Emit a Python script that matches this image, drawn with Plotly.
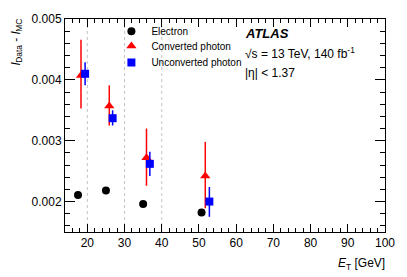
import plotly.graph_objects as go

# Data
el_x = [17.5, 25.0, 35.0, 50.7]
el_y = [0.00211, 0.00218, 0.00196, 0.00182]

conv_x = [18.3, 25.9, 35.9, 51.7]
conv_y = [0.00407, 0.00357, 0.00272, 0.00242]
conv_up = [0.00466, 0.00391, 0.00320, 0.00298]
conv_dn = [0.00353, 0.00325, 0.00226, 0.00189]

unc_x = [19.4, 26.8, 36.8, 52.8]
unc_y = [0.00410, 0.00337, 0.00262, 0.00200]
unc_up = [0.00429, 0.00350, 0.00282, 0.00224]
unc_dn = [0.00391, 0.00325, 0.00242, 0.00175]

bin_edges = [20, 30, 40]

FONT = "Liberation Sans, Arial, Helvetica, sans-serif"

fig = go.Figure()
fig.add_trace(go.Scatter(x=el_x, y=el_y, mode="markers", name="Electron", legend="legend",
                         marker=dict(symbol="circle", size=8, color="black")))
fig.add_trace(go.Scatter(
    x=conv_x, y=conv_y, mode="markers", name="Converted photon", legend="legend2",
    marker=dict(symbol="triangle-up", size=9, color="red"),
    error_y=dict(type="data", symmetric=False,
                 array=[u - v for u, v in zip(conv_up, conv_y)],
                 arrayminus=[v - d for v, d in zip(conv_y, conv_dn)],
                 color="red", thickness=1.5, width=0)))
fig.add_trace(go.Scatter(
    x=unc_x, y=unc_y, mode="markers", name="Unconverted photon", legend="legend3",
    marker=dict(symbol="square", size=8, color="blue"),
    error_y=dict(type="data", symmetric=False,
                 array=[u - v for u, v in zip(unc_up, unc_y)],
                 arrayminus=[v - d for v, d in zip(unc_y, unc_dn)],
                 color="blue", thickness=1.5, width=0)))

for e in bin_edges:
    fig.add_vline(x=e, line=dict(color="#c4c4c4", width=1, dash="dot"), layer="below")

leg_common = dict(x=0.145, xanchor="left", yanchor="top", yref="paper",
                  bgcolor="rgba(0,0,0,0)", font=dict(size=10), itemwidth=30)

fig.update_layout(
    width=407, height=277,
    margin=dict(l=65, r=22, t=15, b=45),
    paper_bgcolor="white", plot_bgcolor="white",
    font=dict(family=FONT, size=12, color="black"),
    showlegend=True,
    legend=dict(y=1.010, **leg_common),
    legend2=dict(y=0.941, **leg_common),
    legend3=dict(y=0.864, **leg_common),
)
fig.update_xaxes(
    range=[14, 100], dtick=10, tick0=0,
    showline=True, linecolor="black", linewidth=1, mirror="allticks",
    ticks="inside", ticklen=8, tickcolor="black",
    minor=dict(dtick=2, ticks="inside", ticklen=4, tickcolor="black"),
    showgrid=False, zeroline=False,
    tickfont=dict(size=12),
)
fig.update_yaxes(
    range=[0.0015, 0.005], dtick=0.001, tick0=0, tickformat=".3f",
    showline=True, linecolor="black", linewidth=1, mirror="allticks",
    ticks="inside", ticklen=10, tickcolor="black",
    minor=dict(dtick=0.0002, ticks="inside", ticklen=5, tickcolor="black"),
    showgrid=False, zeroline=False,
    tickfont=dict(size=12),
)

fig.add_annotation(xref="paper", yref="paper", x=1.005, y=-0.105, xanchor="right", yanchor="top",
                   text="<i>E</i><sub>T</sub> [GeV]", showarrow=False, font=dict(size=12))
fig.add_annotation(xref="paper", yref="paper", x=-0.15, y=1.01, xanchor="center", yanchor="top",
                   text="<i>l</i><sub>Data</sub> - <i>l</i><sub>MC</sub>", textangle=-90,
                   showarrow=False, font=dict(size=12))
fig.add_annotation(xref="paper", yref="paper", x=0.555, y=0.932, xanchor="left", yanchor="middle",
                   text="<b><i>ATLAS</i></b>", showarrow=False, font=dict(size=13))
fig.add_annotation(xref="paper", yref="paper", x=0.555, y=0.84, xanchor="left", yanchor="middle",
                   text="√s = 13 TeV, 140 fb<sup>-1</sup>", showarrow=False, font=dict(size=12))
fig.add_annotation(xref="paper", yref="paper", x=0.555, y=0.748, xanchor="left", yanchor="middle",
                   text="|η| < 1.37", showarrow=False, font=dict(size=12))

fig.write_html("out.html", config={"displayModeBar": False},
               post_script="document.body.style.margin='0';")
